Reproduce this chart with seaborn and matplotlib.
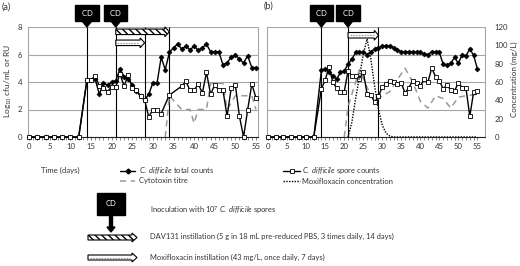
import matplotlib
matplotlib.use("Agg")
import matplotlib.pyplot as plt
import matplotlib.patches as mpatches
import numpy as np
import seaborn as sns

sns.set_theme(style="white")
plt.rcParams["font.family"] = ["Lato", "DejaVu Sans"]
plt.rcParams["mathtext.fontset"] = "custom"
plt.rcParams["mathtext.rm"] = "Lato"
plt.rcParams["mathtext.it"] = "Lato:italic"

W, H = 520, 266

# ---- data ----
zero_days = [0, 2, 4, 6, 8, 10, 12]
zero_vals = [0, 0, 0, 0, 0, 0, 0]

# panel (a)
a_days = list(range(14, 56))
a_total = [4.15, 4.15, 4.2, 3.1, 3.9, 3.75, 4.0, 4.1, 4.95, 4.4,
           4.2, 3.8, 3.35, 2.95, 2.7, 3.1, 3.95, 3.9, 5.8, 4.9,
           6.15, 6.5, 6.75, 6.4, 6.6, 6.35, 6.6, 6.3, 6.5, 6.75,
           6.2, 6.2, 6.2, 5.25, 5.4, 5.8, 6.0, 5.65, 5.4, 5.9,
           5.05, 5.05]
a_spore_days = list(range(14, 33)) + [34] + list(range(37, 56))
a_spore = [4.15, 4.15, 4.45, 3.7, 3.6, 3.3, 3.65, 3.65, 4.6, 3.7,
           4.5, 3.6, 3.4, 3.0, 2.7, 1.45, 2.0, 2.0, 1.7,
           3.05,
           3.7, 4.05, 3.4, 3.4, 3.85, 3.2, 4.7, 3.1, 3.8, 3.4,
           3.4, 1.5, 3.55, 3.8, 1.5, 0.0, 2.0, 3.85, 2.85]
a_tox_days = [33, 34, 37, 39, 40, 41, 43, 44, 47, 48, 50, 51, 54, 55]
a_tox = [0, 3.0, 2.0, 2.0, 1.0, 2.0, 2.0, 3.9, 3.9, 2.0, 3.0, 3.0, 3.0, 2.0]
a_events = [14, 21, 28, 34]
a_inoc = [14, 21]
a_dav = [21, 34]
a_moxi = [21, 28]

# panel (b)
b_days = list(range(14, 56))
b_total = [4.85, 4.95, 4.7, 4.45, 4.2, 4.7, 4.8, 5.3, 5.65, 6.15,
           6.2, 6.15, 6.0, 6.2, 6.4, 6.5, 6.6, 6.65, 6.6, 6.5,
           6.35, 6.2, 6.15, 6.2, 6.2, 6.15, 6.15, 6.05, 6.0, 6.2,
           6.2, 6.15, 5.3, 5.25, 5.35, 5.8, 5.35, 6.0, 5.9, 6.4,
           5.95, 4.95]
b_spore = [3.5, 4.15, 5.1, 4.0, 3.55, 3.3, 3.3, 4.8, 4.45, 4.45,
           4.2, 4.75, 3.15, 3.05, 2.55, 2.95, 3.65, 3.85, 4.1, 4.0,
           3.85, 3.9, 3.2, 3.6, 4.1, 3.9, 3.7, 4.2, 4.0, 5.0,
           4.4, 4.1, 3.5, 3.8, 3.4, 3.35, 3.95, 3.6, 3.55, 1.5,
           3.25, 3.35]
b_tox_days = [20, 21, 24, 26, 28, 30, 32, 34, 36, 38, 40, 42, 44, 46, 48, 50, 52, 55]
b_tox = [0, 2.2, 4.9, 3.6, 2.6, 3.0, 3.3, 4.2, 5.0, 4.0, 2.6, 2.1, 3.0, 2.8, 2.1, 2.9, 3.0, 3.1]
moxi_days = list(range(21, 56))
moxi_conc = [0, 16, 42, 66, 90, 107, 85, 55, 30, 13, 4, 1] + [0] * 23
b_events = [14, 21, 29]
b_inoc = [14, 21]
b_moxi = [21, 29]

GRID = "#a6a6a6"
TXT = "#333333"


def px_box(left, top, right, bottom):
    return [left / W, 1 - bottom / H, (right - left) / W, (bottom - top) / H]


def style_panel(ax, xmax):
    ax.set_xlim(-0.3, xmax)
    ax.set_ylim(0, 8)
    ax.set_yticks(np.arange(0, 9, 2))
    ax.set_xticks(np.arange(0, 56, 5))
    ax.set_xticks(np.arange(0, 56, 1), minor=True)
    ax.set_axisbelow(True)
    ax.yaxis.grid(True, color=GRID, lw=0.8)
    ax.xaxis.grid(False)
    for s in ("left", "right"):
        ax.spines[s].set_color(GRID)
        ax.spines[s].set_linewidth(0.8)
    ax.spines["top"].set_visible(False)
    ax.spines["bottom"].set_color("#222222")
    ax.spines["bottom"].set_linewidth(0.8)
    ax.tick_params(axis="x", which="both", bottom=True, direction="out", length=2,
                   width=0.5, color="#555555", labelsize=5.6, pad=2, labelcolor=TXT)
    ax.tick_params(axis="y", left=False, length=0, labelsize=5.6, pad=4, labelcolor=TXT)
    ax.set_xlabel("")
    ax.set_ylabel("")


def plot_counts(ax, days, total, spore_days, spore, tox_days, tox):
    sns.lineplot(x=zero_days + days, y=zero_vals + total, ax=ax, color="black",
                 marker="D", markersize=2.5, markeredgecolor="black", markeredgewidth=0.5,
                 linewidth=1.0, estimator=None, clip_on=False, zorder=4)
    sns.lineplot(x=zero_days + spore_days, y=zero_vals + spore, ax=ax, color="black",
                 marker="s", markersize=3.5, markerfacecolor="white", markeredgecolor="black",
                 markeredgewidth=0.6, linewidth=1.0, estimator=None, clip_on=False, zorder=5)
    sns.lineplot(x=tox_days, y=tox, ax=ax, color="#9a9a9a", linestyle=(0, (4, 3)),
                 linewidth=1.1, estimator=None, zorder=3)


def add_cd(ax, days):
    for d in days:
        ax.annotate(" CD ", xy=(d, 1.0), xycoords=("data", "axes fraction"),
                    xytext=(0, 10), textcoords="offset points", ha="center", va="center",
                    color="white", fontsize=5.5,
                    bbox=dict(boxstyle="square,pad=0.55", fc="black", ec="black"),
                    arrowprops=dict(arrowstyle="simple,head_length=0.5,head_width=0.8,tail_width=0.3",
                                    mutation_scale=8, fc="black", ec="black",
                                    shrinkA=0, shrinkB=0),
                    annotation_clip=False)


def block_arrow(ax, span, y, kind, body=0.4, head=0.72, head_len=1.1):
    start, end = span
    arr = mpatches.FancyArrow(start, y, end - start, 0, width=body, head_width=head,
                              head_length=head_len, length_includes_head=True,
                              fc="white", ec="black", lw=0.8, zorder=6,
                              hatch="\\\\\\\\\\" if kind == "dav" else None, clip_on=False)
    ax.add_patch(arr)
    if kind == "moxi":
        ax.plot([start + 0.4, end - head_len - 0.2], [y, y], color="#999999", lw=0.8,
                ls=(0, (1.5, 1)), zorder=7, clip_on=False)


fig = plt.figure(figsize=(W / 100, H / 100), dpi=100)
fig.patch.set_facecolor("white")
ax_a = fig.add_axes(px_box(28, 27, 258, 137))
ax_b = fig.add_axes(px_box(267, 27, 485, 137))
ax_c = ax_b.twinx()

# panel (a)
plot_counts(ax_a, a_days, a_total, a_spore_days, a_spore, a_tox_days, a_tox)
style_panel(ax_a, 55.5)
ax_a.vlines(a_events, 0, 8, color="black", lw=0.8, zorder=2)
add_cd(ax_a, a_inoc)
block_arrow(ax_a, a_dav, 7.65, "dav")
block_arrow(ax_a, a_moxi, 6.85, "moxi")

# panel (b)
plot_counts(ax_b, b_days, b_total, b_days, b_spore, b_tox_days, b_tox)
style_panel(ax_b, 57.0)
ax_b.tick_params(axis="y", labelleft=False)
ax_b.vlines(b_events, 0, 8, color="black", lw=0.8, zorder=2)
add_cd(ax_b, b_inoc)
block_arrow(ax_b, b_moxi, 7.4, "moxi")

sns.lineplot(x=moxi_days, y=moxi_conc, ax=ax_c, color="black", linestyle=(0, (1, 1)),
             linewidth=1.0, estimator=None, zorder=3)
ax_c.set_ylim(0, 120)
ax_c.set_yticks(np.arange(0, 121, 20))
ax_c.grid(False)
for s in ("left", "top", "bottom", "right"):
    ax_c.spines[s].set_visible(False)
ax_c.tick_params(axis="y", right=False, length=0, labelsize=5.6, pad=7, labelcolor=TXT)
ax_c.set_ylabel("")

# labels
fig.text(2 / W, 1 - 7 / H, "(a)", fontsize=6.5, va="center", color=TXT)
fig.text(264 / W, 1 - 6 / H, "(b)", fontsize=6.5, va="center", color=TXT)
fig.text(8 / W, 1 - 81 / H, "Log$_{10}$ cfu/mL or RU", rotation=90, fontsize=6,
         ha="center", va="center", color=TXT)
fig.text(514 / W, 1 - 79 / H, "Concentration (mg/L)", rotation=90, fontsize=5.8,
         ha="center", va="center", color=TXT)

# key below the panels (pixel coordinates)
ax_k = fig.add_axes([0, 0, 1, 1])
ax_k.set_xlim(0, W)
ax_k.set_ylim(H, 0)
ax_k.axis("off")

KEY_FS = 5.4
ax_k.text(41, 170, "Time (days)", fontsize=5.6, va="center", color=TXT)
row1, row2 = 171, 181
ax_k.plot([120, 135], [row1, row1], color="black", lw=1.0)
ax_k.plot([127.5], [row1], marker="D", ms=2.5, color="black")
ax_k.text(139, row1, r"$\mathit{C.\ difficile}$ total counts", fontsize=KEY_FS, va="center", color=TXT)
ax_k.plot([283, 300], [row1, row1], color="black", lw=1.0)
ax_k.plot([291.5], [row1], marker="s", ms=3.5, mfc="white", mec="black", mew=0.6)
ax_k.text(302, row1, r"$\mathit{C.\ difficile}$ spore counts", fontsize=KEY_FS, va="center", color=TXT)
ax_k.plot([120, 135], [row2, row2], color="#9a9a9a", lw=1.1, ls=(0, (4, 3)))
ax_k.text(139, row2, "Cytotoxin titre", fontsize=KEY_FS, va="center", color=TXT)
ax_k.plot([283, 300], [row2, row2], color="black", lw=1.0, ls=(0, (1, 1)))
ax_k.text(302, row2, "Moxifloxacin concentration", fontsize=KEY_FS, va="center", color=TXT)

ax_k.add_patch(mpatches.Rectangle((97, 193), 28, 22, fc="black", ec="black"))
ax_k.text(111, 203, "CD", color="white", fontsize=5.5, ha="center", va="center")
ax_k.add_patch(mpatches.FancyArrow(111, 215, 0, 17, width=3, head_width=8, head_length=5,
                                   length_includes_head=True, fc="black", ec="black"))
ax_k.text(150, 210, r"Inoculation with 10$^7$ $\mathit{C.\ difficile}$ spores", fontsize=KEY_FS,
          va="center", color=TXT)
ax_k.add_patch(mpatches.FancyArrow(88, 237.5, 49, 0, width=5, head_width=9, head_length=5,
                                   length_includes_head=True, fc="white", ec="black", lw=0.8,
                                   hatch="\\\\\\\\\\"))
ax_k.text(150, 236, "DAV131 instillation (5 g in 18 mL pre-reduced PBS, 3 times daily, 14 days)",
          fontsize=KEY_FS, va="center", color=TXT)
ax_k.add_patch(mpatches.FancyArrow(88, 257.5, 49, 0, width=5, head_width=9, head_length=5,
                                   length_includes_head=True, fc="white", ec="black", lw=0.8))
ax_k.plot([90, 130], [257.5, 257.5], color="#999999", lw=0.8, ls=(0, (1.5, 1)))
ax_k.text(150, 257, "Moxifloxacin instillation (43 mg/L, once daily, 7 days)",
          fontsize=KEY_FS, va="center", color=TXT)

fig.savefig("out.png", dpi=100, facecolor="white")
